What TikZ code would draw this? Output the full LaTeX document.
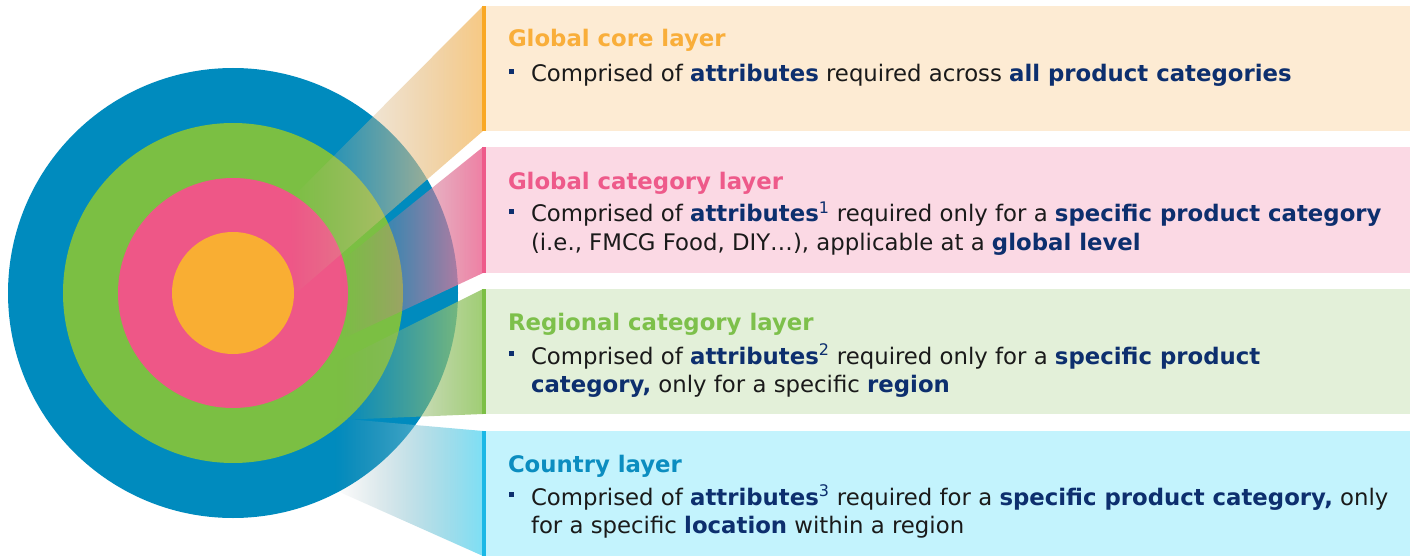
\documentclass[tikz,border=0pt]{standalone}
\usepackage{fontspec}
\setmainfont{DejaVu Sans}
\usetikzlibrary{fadings}

% ring colours
\definecolor{ringblue}{HTML}{008BBE}
\definecolor{ringgreen}{HTML}{7BBF43}
\definecolor{ringpink}{HTML}{EE5787}
\definecolor{ringorange}{HTML}{F9AE33}
% box fills
\definecolor{boxO}{HTML}{FDEBD3}
\definecolor{boxP}{HTML}{FBD9E4}
\definecolor{boxG}{HTML}{E3F0D9}
\definecolor{boxC}{HTML}{C3F3FD}
% box edge bars
\definecolor{barO}{HTML}{F9A825}
\definecolor{barP}{HTML}{EE5A8A}
\definecolor{barG}{HTML}{7CBF45}
\definecolor{barC}{HTML}{1AB8E6}
% wedge gradients
\definecolor{wOl}{HTML}{C8B49A}\definecolor{wOr}{HTML}{F7C57A}
\definecolor{wPl}{HTML}{B08090}\definecolor{wPr}{HTML}{EE759C}
\definecolor{wGl}{HTML}{8FA878}\definecolor{wGr}{HTML}{98CA68}
\definecolor{wCl}{HTML}{8AA0A8}\definecolor{wCr}{HTML}{72DDF5}
% titles and text
\definecolor{ttlO}{HTML}{F9AE3A}
\definecolor{ttlP}{HTML}{EE5A8A}
\definecolor{ttlG}{HTML}{7DC04B}
\definecolor{ttlC}{HTML}{0B8DC0}
\definecolor{navy}{HTML}{0D2F6E}
\definecolor{body}{HTML}{1A1A1A}

\tikzfading[name=fadein, left color=transparent!100, right color=transparent!8]

\newcommand{\hl}[1]{{\bfseries\color{navy}#1}}
\newcommand{\sups}[1]{{\color{navy}\textsuperscript{#1}}}

\tikzset{
  txt/.style={anchor=base west, inner sep=0pt, outer sep=0pt,
              font=\fontsize{17.1}{21}\selectfont, text=body},
  ttl/.style={txt, font=\fontsize{17.1}{21}\selectfont\bfseries},
  bul/.style={fill=navy},
}

\begin{document}
\begin{tikzpicture}[x=0.75pt,y=-0.75pt]
\useasboundingbox (0,0) rectangle (1410,556);
\fill[white] (0,0) rectangle (1410,556);

% concentric rings
\fill[ringblue]   (233,293) circle (225);
\fill[ringgreen]  (233,293) circle (170);
\fill[ringpink]   (233,293) circle (115);
\fill[ringorange] (233,293) circle (61);

% wedges from the rings to the layer boxes
\shade[left color=wOl, right color=wOr, path fading=fadein]
  (290,200) -- (483,6) -- (483,131) -- (294,295) -- cycle;
\shade[left color=wPl, right color=wPr, path fading=fadein]
  (340,262) -- (483,147) -- (483,273) -- (340,340) -- cycle;
\shade[left color=wGl, right color=wGr, path fading=fadein]
  (337,362) -- (483,289) -- (483,414) -- (337,420) -- cycle;
\shade[left color=wCl, right color=wCr, path fading=fadein]
  (335,418) -- (483,431) -- (483,556) -- (335,490) -- cycle;

% layer boxes
\fill[boxO] (483,6)   rectangle (1410,131);
\fill[boxP] (483,147) rectangle (1410,273);
\fill[boxG] (483,289) rectangle (1410,414);
\fill[boxC] (483,431) rectangle (1410,556);
\fill[barO] (482,6)   rectangle (486,131);
\fill[barP] (482,147) rectangle (486,273);
\fill[barG] (482,289) rectangle (486,414);
\fill[barC] (482,431) rectangle (486,556);

% Global core layer
\node[ttl, text=ttlO] (t1) at (508,47) {Global core layer};
\fill[bul] (509,69) rectangle (514,74);
\node[txt] (l1a) at (531,82) {Comprised of \hl{attributes} required across \hl{all product categories}};

% Global category layer
\node[ttl, text=ttlP] (t2) at (508,190) {Global category layer};
\fill[bul] (509,209) rectangle (514,214);
\node[txt] (l2a) at (531,222) {Comprised of \hl{attributes}\sups{1} required only for a \hl{specific product category}};
\node[txt] (l2b) at (531,250) {(i.e., FMCG Food, DIY…), applicable at a \hl{global level}};

% Regional category layer
\node[ttl, text=ttlG] (t3) at (508,330) {Regional category layer};
\fill[bul] (509,351) rectangle (514,356);
\node[txt] (l3a) at (531,364) {Comprised of \hl{attributes}\sups{2} required only for a \hl{specific product}};
\node[txt] (l3b) at (531,392) {\hl{category,} only for a specific \hl{region}};

% Country layer
\node[ttl, text=ttlC] (t4) at (508,472) {Country layer};
\fill[bul] (509,492) rectangle (514,497);
\node[txt] (l4a) at (531,505) {Comprised of \hl{attributes}\sups{3} required for a \hl{specific product category,} only};
\node[txt] (l4b) at (531,533) {for a specific \hl{location} within a region};
\end{tikzpicture}
\end{document}
